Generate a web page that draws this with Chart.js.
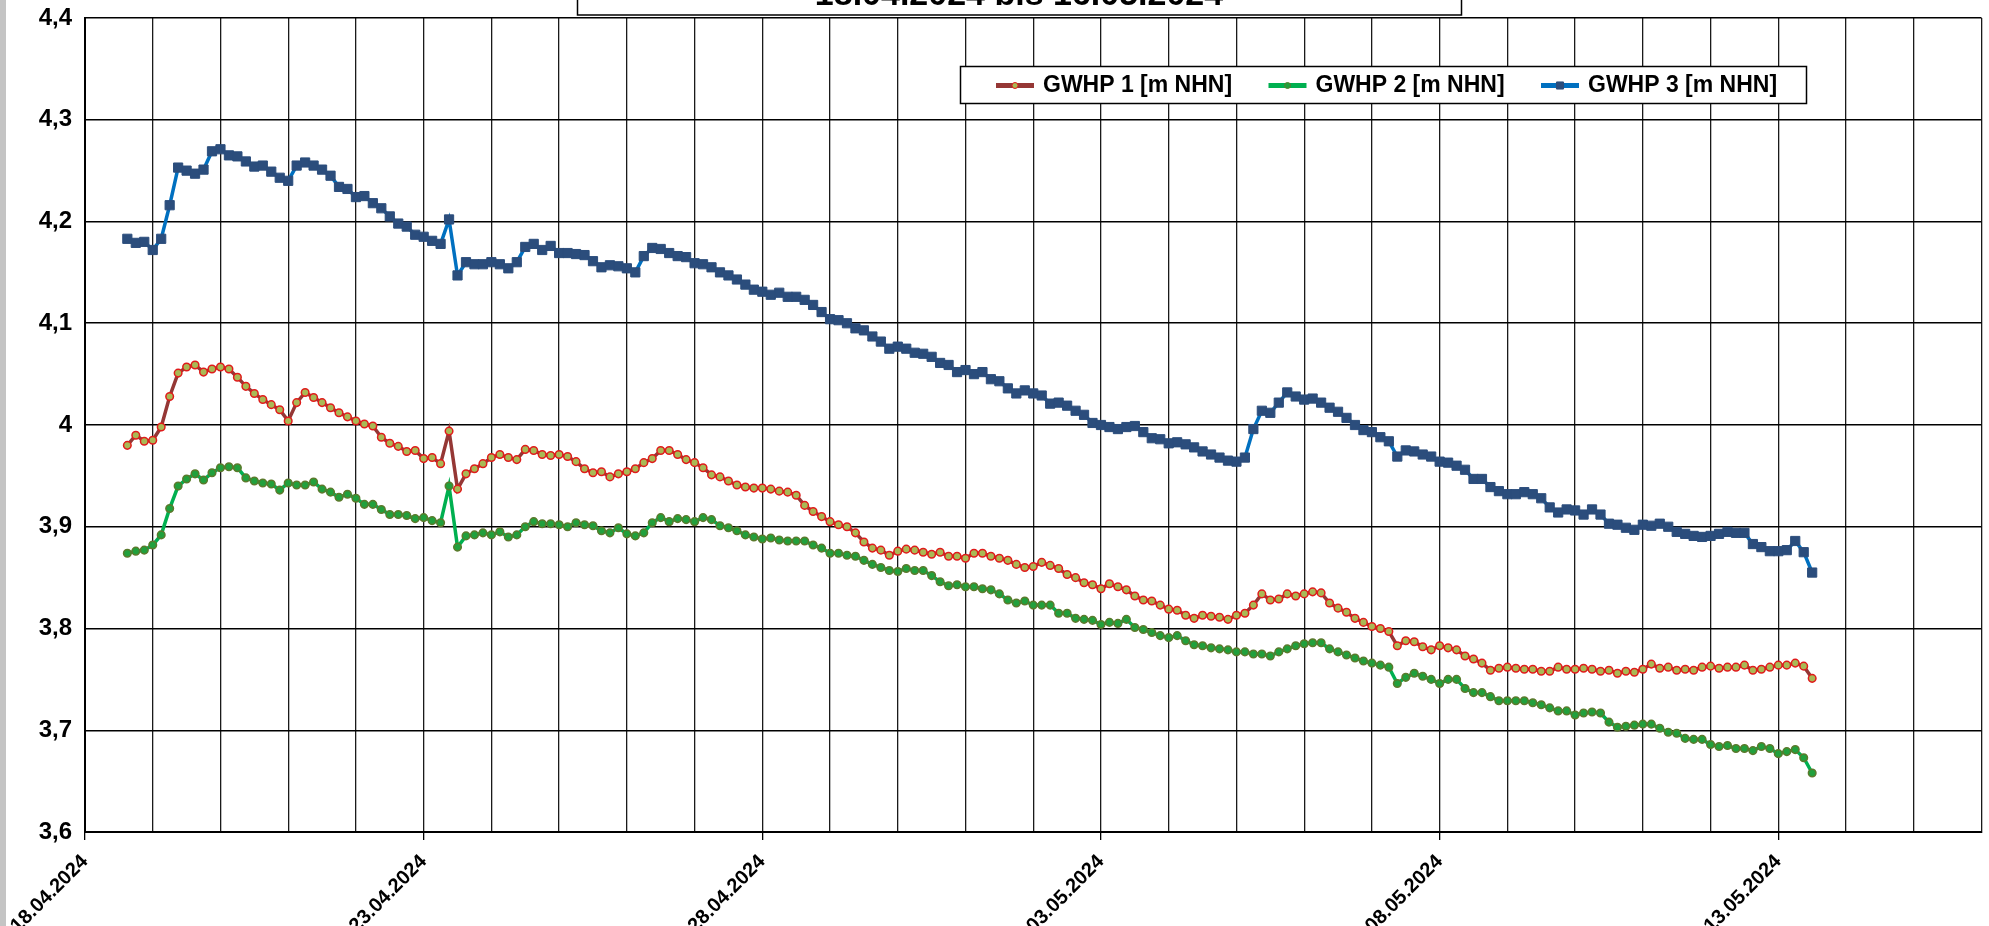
<!DOCTYPE html>
<html lang="de">
<head>
<meta charset="utf-8">
<title>Grundwasserstände GWHP 1-3</title>
<script src="https://cdn.jsdelivr.net/npm/chart.js@4.4.1/dist/chart.umd.min.js"></script>
<style>
  html, body { margin: 0; padding: 0; background: #fff; }
  #wrap { position: relative; width: 1989px; height: 926px; }
</style>
</head>
<body>
<div id="wrap"><canvas id="gwChart" width="1989" height="926"></canvas></div>
<script>
// 3-hourly readings, first one on 18.04.2024 15:00 (x axis counts days from 18.04.2024 00:00)
const START_DAY = 0.625;
const STEP_DAYS = 0.125;

const seriesLabels = ['GWHP 1 [m NHN]', 'GWHP 2 [m NHN]', 'GWHP 3 [m NHN]'];
const dateLabels = ['18.04.2024', '23.04.2024', '28.04.2024', '03.05.2024', '08.05.2024', '13.05.2024'];
const titleText = '18.04.2024 bis 16.05.2024';

const gwhp1 = [
  3.98, 3.99, 3.984, 3.985, 3.998, 4.028, 4.051, 4.057, 4.059, 4.052,
  4.055, 4.057, 4.055, 4.047, 4.038, 4.031, 4.025, 4.02, 4.015, 4.004,
  4.022, 4.032, 4.027, 4.022, 4.017, 4.012, 4.008, 4.004, 4.001, 3.999,
  3.988, 3.982, 3.979, 3.974, 3.975, 3.967, 3.968, 3.962, 3.994, 3.937,
  3.952, 3.957, 3.962, 3.968, 3.971, 3.968, 3.966, 3.976, 3.975, 3.971,
  3.97, 3.971, 3.969, 3.964, 3.957, 3.953, 3.954, 3.949, 3.952, 3.954,
  3.957, 3.963, 3.967, 3.975, 3.975, 3.971, 3.966, 3.963, 3.958, 3.951,
  3.949, 3.945, 3.941, 3.939, 3.938, 3.938, 3.937, 3.935, 3.934, 3.931,
  3.921, 3.915, 3.91, 3.905, 3.902, 3.9, 3.894, 3.885, 3.879, 3.877,
  3.872, 3.876, 3.878, 3.877, 3.875, 3.873, 3.875, 3.871, 3.871, 3.869,
  3.874, 3.874, 3.871, 3.869, 3.867, 3.863, 3.86, 3.861, 3.865, 3.862,
  3.859, 3.853, 3.85, 3.845, 3.843, 3.839, 3.844, 3.841, 3.838, 3.832,
  3.828, 3.827, 3.823, 3.819, 3.818, 3.813, 3.81, 3.813, 3.812, 3.811,
  3.809, 3.813, 3.815, 3.823, 3.834, 3.828, 3.829, 3.834, 3.832, 3.834,
  3.836, 3.835, 3.825, 3.82, 3.816, 3.81, 3.806, 3.802, 3.8, 3.797,
  3.783, 3.788, 3.787, 3.782, 3.779, 3.783, 3.781, 3.779, 3.773, 3.77,
  3.766, 3.759, 3.761, 3.762, 3.761, 3.76, 3.76, 3.758, 3.758, 3.762,
  3.76, 3.76, 3.761, 3.76, 3.758, 3.759, 3.756, 3.758, 3.757, 3.76,
  3.765, 3.761, 3.762, 3.759, 3.76, 3.759, 3.762, 3.763, 3.761, 3.762,
  3.762, 3.764, 3.759, 3.76, 3.762, 3.764, 3.764, 3.766, 3.763, 3.751
];

const gwhp2 = [
  3.874, 3.876, 3.877, 3.882, 3.892, 3.918, 3.94, 3.947, 3.952, 3.946,
  3.953, 3.958, 3.959, 3.958, 3.948, 3.945, 3.943, 3.942, 3.936, 3.943,
  3.941, 3.941, 3.944, 3.937, 3.934, 3.929, 3.932, 3.928, 3.922, 3.922,
  3.917, 3.912, 3.912, 3.911, 3.908, 3.909, 3.906, 3.904, 3.94, 3.88,
  3.891, 3.892, 3.894, 3.892, 3.895, 3.89, 3.892, 3.9, 3.905, 3.903,
  3.903, 3.902, 3.9, 3.904, 3.902, 3.901, 3.896, 3.894, 3.899, 3.893,
  3.891, 3.894, 3.904, 3.909, 3.905, 3.908, 3.907, 3.905, 3.909, 3.907,
  3.901, 3.899, 3.896, 3.892, 3.89, 3.888, 3.889, 3.887, 3.886, 3.886,
  3.886, 3.882, 3.879, 3.874, 3.874, 3.872, 3.871, 3.867, 3.863, 3.86,
  3.857, 3.856, 3.859, 3.857, 3.857, 3.852, 3.846, 3.842, 3.843, 3.841,
  3.841, 3.839, 3.838, 3.834, 3.828, 3.825, 3.827, 3.823, 3.823, 3.823,
  3.815, 3.815, 3.81, 3.809, 3.808, 3.804, 3.806, 3.805, 3.809, 3.801,
  3.799, 3.796, 3.793, 3.791, 3.793, 3.788, 3.784, 3.783, 3.781, 3.78,
  3.779, 3.777, 3.777, 3.775, 3.775, 3.773, 3.777, 3.78, 3.783, 3.785,
  3.786, 3.786, 3.78, 3.777, 3.774, 3.771, 3.768, 3.766, 3.764, 3.762,
  3.746, 3.752, 3.756, 3.753, 3.75, 3.746, 3.75, 3.75, 3.741, 3.737,
  3.737, 3.733, 3.729, 3.729, 3.729, 3.729, 3.727, 3.725, 3.722, 3.719,
  3.719, 3.715, 3.717, 3.718, 3.717, 3.708, 3.703, 3.704, 3.705, 3.706,
  3.706, 3.702, 3.698, 3.697, 3.692, 3.691, 3.691, 3.686, 3.684, 3.685,
  3.682, 3.682, 3.68, 3.684, 3.682, 3.677, 3.679, 3.681, 3.673, 3.658
];

const gwhp3 = [
  4.183, 4.179, 4.18, 4.172, 4.183, 4.216, 4.253, 4.25, 4.247, 4.251,
  4.269, 4.271, 4.265, 4.264, 4.259, 4.254, 4.255, 4.249, 4.243, 4.24,
  4.255, 4.258, 4.255, 4.251, 4.245, 4.234, 4.232, 4.224, 4.225, 4.218,
  4.213, 4.205, 4.198, 4.195, 4.187, 4.185, 4.181, 4.178, 4.202, 4.147,
  4.16, 4.158, 4.158, 4.16, 4.158, 4.154, 4.16, 4.175, 4.178, 4.172,
  4.176, 4.169, 4.169, 4.168, 4.167, 4.161, 4.155, 4.157, 4.156, 4.154,
  4.15, 4.166, 4.174, 4.173, 4.169, 4.166, 4.165, 4.159, 4.158, 4.155,
  4.15, 4.147, 4.143, 4.138, 4.133, 4.131, 4.128, 4.13, 4.126, 4.126,
  4.123, 4.118, 4.111, 4.104, 4.103, 4.1, 4.095, 4.093, 4.087, 4.082,
  4.075, 4.077, 4.075, 4.071, 4.07, 4.067, 4.061, 4.059, 4.052, 4.054,
  4.05, 4.052, 4.045, 4.043, 4.036, 4.031, 4.034, 4.031, 4.029, 4.021,
  4.022, 4.019, 4.014, 4.01, 4.002, 4.0, 3.998, 3.996, 3.998, 3.999,
  3.993, 3.987, 3.986, 3.982, 3.983, 3.981, 3.978, 3.974, 3.971, 3.968,
  3.965, 3.964, 3.968, 3.996, 4.014, 4.012, 4.022, 4.032, 4.028, 4.025,
  4.026, 4.022, 4.017, 4.013, 4.007, 4.0, 3.995, 3.993, 3.988, 3.984,
  3.969, 3.975, 3.974, 3.971, 3.969, 3.964, 3.963, 3.96, 3.956, 3.947,
  3.947, 3.939, 3.935, 3.932, 3.932, 3.934, 3.932, 3.928, 3.919, 3.914,
  3.917, 3.916, 3.912, 3.917, 3.912, 3.903, 3.902, 3.899, 3.897, 3.902,
  3.901, 3.903, 3.9, 3.895, 3.893, 3.891, 3.89, 3.891, 3.893, 3.895,
  3.894, 3.894, 3.883, 3.88, 3.876, 3.876, 3.877, 3.886, 3.875, 3.855
];

const FONT = "'Liberation Sans', Arial, sans-serif";

function toPoints(values) {
  return values.map((v, i) => ({ x: START_DAY + i * STEP_DAYS, y: v }));
}

// title box (cut off at the top edge), legend box and the grey strip on the left
const framePlugin = {
  id: 'frame',
  afterDraw(chart) {
    const ctx = chart.ctx;
    ctx.save();

    ctx.fillStyle = '#c4c4c4';
    ctx.fillRect(0, 0, 6, chart.height);

    // title
    ctx.fillStyle = '#fff';
    ctx.fillRect(577, -30, 884, 45);
    ctx.strokeStyle = '#000';
    ctx.lineWidth = 1.5;
    ctx.strokeRect(577.5, -30, 884, 45);
    ctx.fillStyle = '#000';
    ctx.font = 'bold 34px ' + FONT;
    ctx.textAlign = 'center';
    ctx.textBaseline = 'alphabetic';
    ctx.fillText(titleText, 1019, 5);

    // legend
    const lx = 960, ly = 66, lw = 846, lh = 37;
    ctx.fillStyle = '#fff';
    ctx.fillRect(lx, ly, lw, lh);
    ctx.lineWidth = 1.5;
    ctx.strokeStyle = '#000';
    ctx.strokeRect(lx + 0.5, ly + 0.5, lw, lh);
    const cy = ly + lh / 2 + 1;
    chart.data.datasets.forEach((ds, i) => {
      const sx = 996 + i * 272.5;
      ctx.strokeStyle = ds.borderColor;
      ctx.lineWidth = 5;
      ctx.beginPath();
      ctx.moveTo(sx, cy);
      ctx.lineTo(sx + 38, cy);
      ctx.stroke();
      ctx.fillStyle = ds.pointBackgroundColor;
      ctx.strokeStyle = ds.pointBorderColor;
      ctx.lineWidth = 1;
      Chart.helpers.drawPoint(ctx, {
        pointStyle: ds.pointStyle,
        radius: ds.pointStyle === 'rect' ? 5 : 3,
        borderWidth: 1,
        rotation: 0
      }, sx + 19, cy);
      ctx.fillStyle = '#000';
      ctx.font = 'bold 23px ' + FONT;
      ctx.textAlign = 'left';
      ctx.textBaseline = 'middle';
      ctx.fillText(ds.label, sx + 47, cy);
    });

    ctx.restore();
  }
};

const ctx = document.getElementById('gwChart').getContext('2d');
const gwChart = new Chart(ctx, {
  type: 'line',
  data: {
    datasets: [{
      label: seriesLabels[0],
      data: toPoints(gwhp1),
      borderColor: '#953735',
      borderWidth: 3.5,
      pointStyle: 'circle',
      pointRadius: 3.8,
      pointBorderWidth: 1.5,
      pointBackgroundColor: '#a9b955',
      pointBorderColor: '#e01b1b'
    }, {
      label: seriesLabels[1],
      data: toPoints(gwhp2),
      borderColor: '#00b050',
      borderWidth: 3.5,
      pointStyle: 'circle',
      pointRadius: 3.8,
      pointBorderWidth: 1.5,
      pointBackgroundColor: '#21a03c',
      pointBorderColor: '#5b7a2c'
    }, {
      label: seriesLabels[2],
      data: toPoints(gwhp3),
      borderColor: '#0070c0',
      borderWidth: 3.5,
      pointStyle: 'rect',
      pointRadius: 6.5,
      pointBorderWidth: 1,
      pointBackgroundColor: '#2b4d7c',
      pointBorderColor: '#2b4d7c'
    }]
  },
  options: {
    responsive: false,
    animation: false,
    devicePixelRatio: 1,
    layout: { padding: { top: 18, right: 7, left: 0, bottom: 0 } },
    elements: { line: { tension: 0 } },
    plugins: {
      legend: { display: false },
      tooltip: { enabled: false },
      title: { display: false }
    },
    scales: {
      x: {
        type: 'linear',
        min: 0,
        max: 28,
        afterFit(scale) {
          scale.height = 94;
          scale.paddingLeft = 0;
          scale.paddingRight = 0;
        },
        border: { color: '#000', width: 2 },
        grid: {
          color: '#1a1a1a',
          lineWidth: 1.3,
          drawTicks: true,
          tickLength: 8,
          tickColor: c => (c.tick && c.tick.value % 5 === 0) ? '#000' : 'rgba(0,0,0,0)'
        },
        ticks: {
          stepSize: 1,
          maxTicksLimit: 100,
          autoSkip: false,
          minRotation: 45,
          maxRotation: 45,
          padding: 10,
          color: '#000',
          font: { family: FONT, size: 20, weight: 'bold' },
          callback: v => (v % 5 === 0 ? dateLabels[v / 5] : '')
        }
      },
      y: {
        min: 3.6,
        max: 4.4,
        afterFit(scale) {
          scale.width = 85;
          scale.paddingTop = 0;
          scale.paddingBottom = 0;
        },
        border: { color: '#000', width: 2 },
        grid: { color: '#000', lineWidth: 1.5, drawTicks: false },
        ticks: {
          stepSize: 0.1,
          padding: 13,
          color: '#000',
          font: { family: FONT, size: 24, weight: 'bold' },
          callback: v => String(Math.round(v * 10) / 10).replace('.', ',')
        }
      }
    }
  },
  plugins: [framePlugin]
});
</script>
</body>
</html>
